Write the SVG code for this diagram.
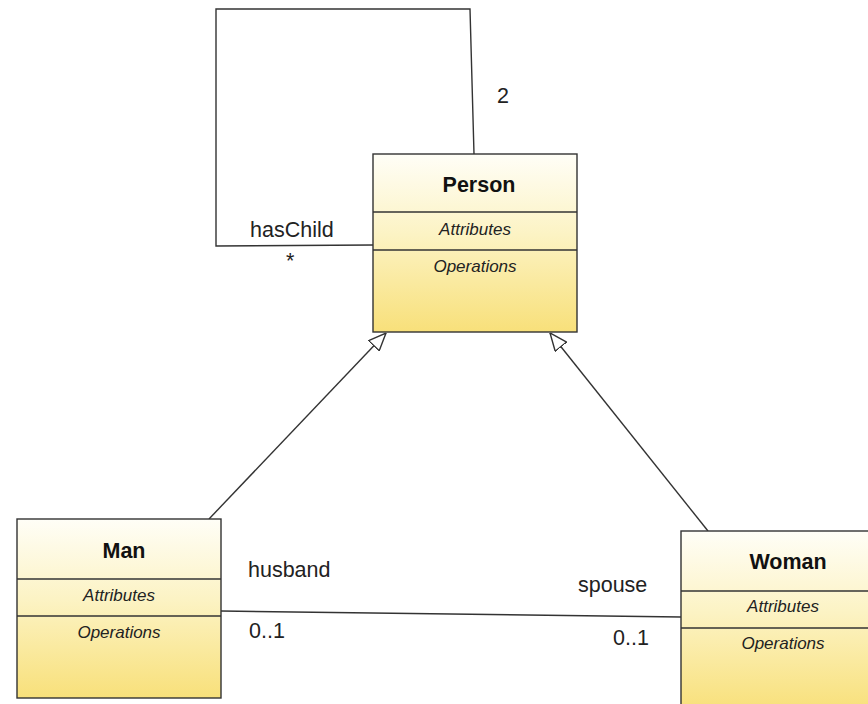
<svg xmlns="http://www.w3.org/2000/svg" width="868" height="704" viewBox="0 0 868 704">
  <style>
    .box { stroke: #333; stroke-width: 1.4; }
    .div { stroke: #333; stroke-width: 1.3; }
    .title { font-family: "Liberation Sans", Arial, sans-serif; font-size: 21.5px; font-weight: bold; fill: #111; text-anchor: middle; }
    .comp { font-family: "Liberation Sans", Arial, sans-serif; font-size: 17px; font-style: italic; fill: #222; text-anchor: middle; }
    .lbl { font-family: "Liberation Sans", Arial, sans-serif; font-size: 21.5px; fill: #222; }
    .edge { fill: none; stroke: #333; stroke-width: 1.4; }
  </style>
  <defs>
    <linearGradient id="classFill" x1="0" y1="0" x2="0" y2="1">
      <stop offset="0" stop-color="#fffef7"/>
      <stop offset="0.45" stop-color="#fcf3c4"/>
      <stop offset="1" stop-color="#f8e07a"/>
    </linearGradient>
    <marker id="inherit" viewBox="0 0 18 16" refX="18" refY="8" markerWidth="18" markerHeight="16" markerUnits="userSpaceOnUse" orient="auto">
      <path d="M0.5,0.7 L18,8 L0.5,15.3 Z" fill="#fff" stroke="#333" stroke-width="1.4"/>
    </marker>
  </defs>

  <!-- connectors -->
  <g id="connectors">
    <path class="edge" d="M373,245 L216,246 L216,9 L470,9 L474,154"/>
    <line class="edge" x1="209" y1="519" x2="386" y2="333" marker-end="url(#inherit)"/>
    <line class="edge" x1="708" y1="531" x2="550" y2="333" marker-end="url(#inherit)"/>
    <line class="edge" x1="221" y1="611" x2="681" y2="617"/>
    <text class="lbl" x="250" y="237">hasChild</text>
    <text class="lbl" x="286" y="268">*</text>
    <text class="lbl" x="497" y="103">2</text>
    <text class="lbl" x="248" y="577">husband</text>
    <text class="lbl" x="249" y="638">0..1</text>
    <text class="lbl" x="578" y="592">spouse</text>
    <text class="lbl" x="613" y="645">0..1</text>
  </g>

  <!-- Person class -->
  <g id="person">
    <rect class="box" x="373" y="154" width="204" height="178" fill="url(#classFill)"/>
    <line class="div" x1="373" y1="212" x2="577" y2="212"/>
    <line class="div" x1="373" y1="250" x2="577" y2="250"/>
    <text class="title" x="479" y="192">Person</text>
    <text class="comp" x="475" y="235">Attributes</text>
    <text class="comp" x="475" y="272">Operations</text>
  </g>

  <!-- Man class -->
  <g id="man">
    <rect class="box" x="17" y="519" width="204" height="179" fill="url(#classFill)"/>
    <line class="div" x1="17" y1="579" x2="221" y2="579"/>
    <line class="div" x1="17" y1="616" x2="221" y2="616"/>
    <text class="title" x="124" y="558">Man</text>
    <text class="comp" x="119" y="601">Attributes</text>
    <text class="comp" x="119" y="638">Operations</text>
  </g>

  <!-- Woman class -->
  <g id="woman">
    <rect class="box" x="681" y="531" width="204" height="180" fill="url(#classFill)"/>
    <line class="div" x1="681" y1="591" x2="885" y2="591"/>
    <line class="div" x1="681" y1="628" x2="885" y2="628"/>
    <text class="title" x="788" y="569">Woman</text>
    <text class="comp" x="783" y="612">Attributes</text>
    <text class="comp" x="783" y="649">Operations</text>
  </g>
</svg>
